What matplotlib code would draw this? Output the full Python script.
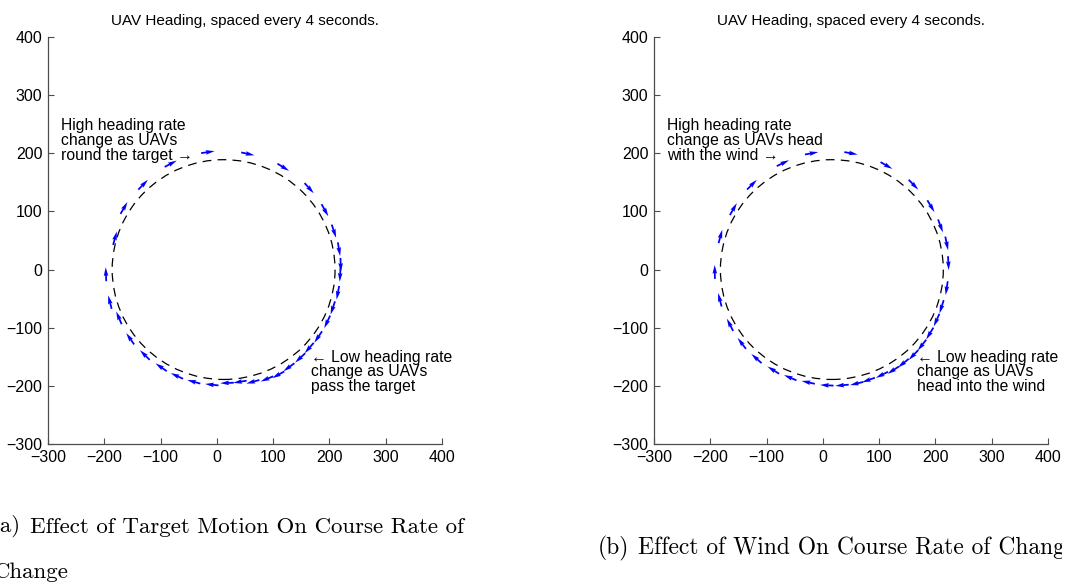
import numpy as np
import matplotlib.pyplot as plt
from matplotlib.patches import Ellipse
from matplotlib.transforms import Bbox

# ---- data ----
title = "UAV Heading, spaced every 4 seconds."
ticks = [-300, -200, -100, 0, 100, 200, 300, 400]

# (a) target motion: arrow centres and headings (deg, ccw from +x)
xa = [-16, 55, 118, 164, 192, 208, 217, 220, 219, 215, 206, 196, 180, 164, 148, 128, 109,
      89, 64, 41, 18, -9, -41, -71, -99, -128, -154, -174, -190, -197, -181, -165, -131, -82]
ya = [202, 199, 176, 140, 102, 66, 35, 8, -9, -40, -66, -90, -116, -135, -152, -168, -181,
      -188, -193, -193, -195, -198, -193, -183, -168, -147, -119, -83, -56, -8, 54, 106, 146, 182]
ha = [8, -12, -31, -47, -60, -71, -80, -88, -93, -101, -109, -116, -125, -132, -138, -145, -152,
      -158, -165, -171, -178, 174, 165, 156, 146, 136, 126, 114, 105, 92, 74, 59, 45, 27]

# (b) wind
xb = [-20, 50, 113, 161, 192, 209, 220, 223, 220, 211, 202, 190, 176, 161, 143, 125, 105,
      81, 60, 34, 7, -26, -58, -88, -118, -144, -165, -183, -192, -182, -159, -126, -71]
yb = [200, 200, 179, 146, 109, 75, 45, 11, -32, -64, -87, -110, -130, -147, -161, -173, -181,
      -190, -196, -199, -199, -194, -186, -173, -153, -127, -95, -52, -4, 57, 104, 146, 183]
hb = [10, -10, -29, -45, -58, -69, -78, -87, -99, -108, -115, -122, -129, -135, -142, -148, -154,
      -161, -167, -175, 177, 168, 158, 149, 139, 128, 118, 105, 91, 74, 59, 44, 25]

# dashed reference circle (centre x, centre y, width, height)
circ_a = (12, 0, 396, 378)
circ_b = (16, 0, 396, 378)

notes_a = ("High heading rate\nchange as UAVs\nround the target \u2192",
           "\u2190 Low heading rate\nchange as UAVs\npass the target")
notes_b = ("High heading rate\nchange as UAVs head\nwith the wind \u2192",
           "\u2190 Low heading rate\nchange as UAVs\nhead into the wind")

plt.rcParams['font.family'] = ['Liberation Sans', 'DejaVu Sans']

W, H = 1081, 582
fig = plt.figure(figsize=(W / 100, H / 100), dpi=100)

def panel(left_px, xs, ys, hd, circ, notes):
    ax = fig.add_axes([left_px / W, (H - 444) / H, 394 / W, 407 / H])
    ax.set_xlim(-300, 400)
    ax.set_ylim(-300, 400)
    ax.set_xticks(ticks)
    ax.set_yticks(ticks)
    for s in ['top', 'right']:
        ax.spines[s].set_visible(False)
    for s in ['left', 'bottom']:
        ax.spines[s].set_color('0.3')
        ax.spines[s].set_linewidth(0.9)
    ax.tick_params(direction='in', length=4, width=0.8, color='0.3',
                   labelsize=11.5, pad=4)
    ax.set_title(title, fontsize=11, pad=9)

    ax.add_patch(Ellipse(circ[:2], circ[2], circ[3], fill=False, color='black',
                         lw=0.9, ls=(0, (7, 5))))

    L = 24
    rad = np.deg2rad(hd)
    ax.quiver(xs, ys, L * np.cos(rad), L * np.sin(rad), angles='xy',
              scale_units='xy', scale=1, pivot='middle', color='blue',
              width=0.0045, headwidth=2.6, headlength=5, headaxislength=4.5)

    ax.text(-277, 222, notes[0], fontsize=11.3, va='center', ha='left', linespacing=0.98)
    ax.text(168, -176, notes[1], fontsize=11.3, va='center', ha='left', linespacing=0.98)
    return ax

panel(48, xa, ya, ha, circ_a, notes_a)
panel(654, xb, yb, hb, circ_b, notes_b)

# sub-figure captions, clipped where the page was cut
clip = Bbox([[0, 0], [1062, H]])
cap = dict(fontsize=16.5, family='cmr10', va='center')
fig.text(21 / W, 1 - 527 / H, "(a)", ha='right', **cap)
fig.text(30 / W, 1 - 527 / H, "Effect of Target Motion On Course Rate of", ha='left', **cap)
fig.text(-6 / W, 1 - 572 / H, "Change", ha='left', **cap)
fig.text(598 / W, 1 - 548 / H, "(b)", ha='left', **dict(cap, fontsize=16.9))
tb = fig.text(638 / W, 1 - 548 / H, "Effect of Wind On Course Rate of Change", ha='left',
              **dict(cap, fontsize=16.9))
tb.set_clip_box(clip)
tb.set_clip_on(True)

fig.savefig("out.png", dpi=100)
